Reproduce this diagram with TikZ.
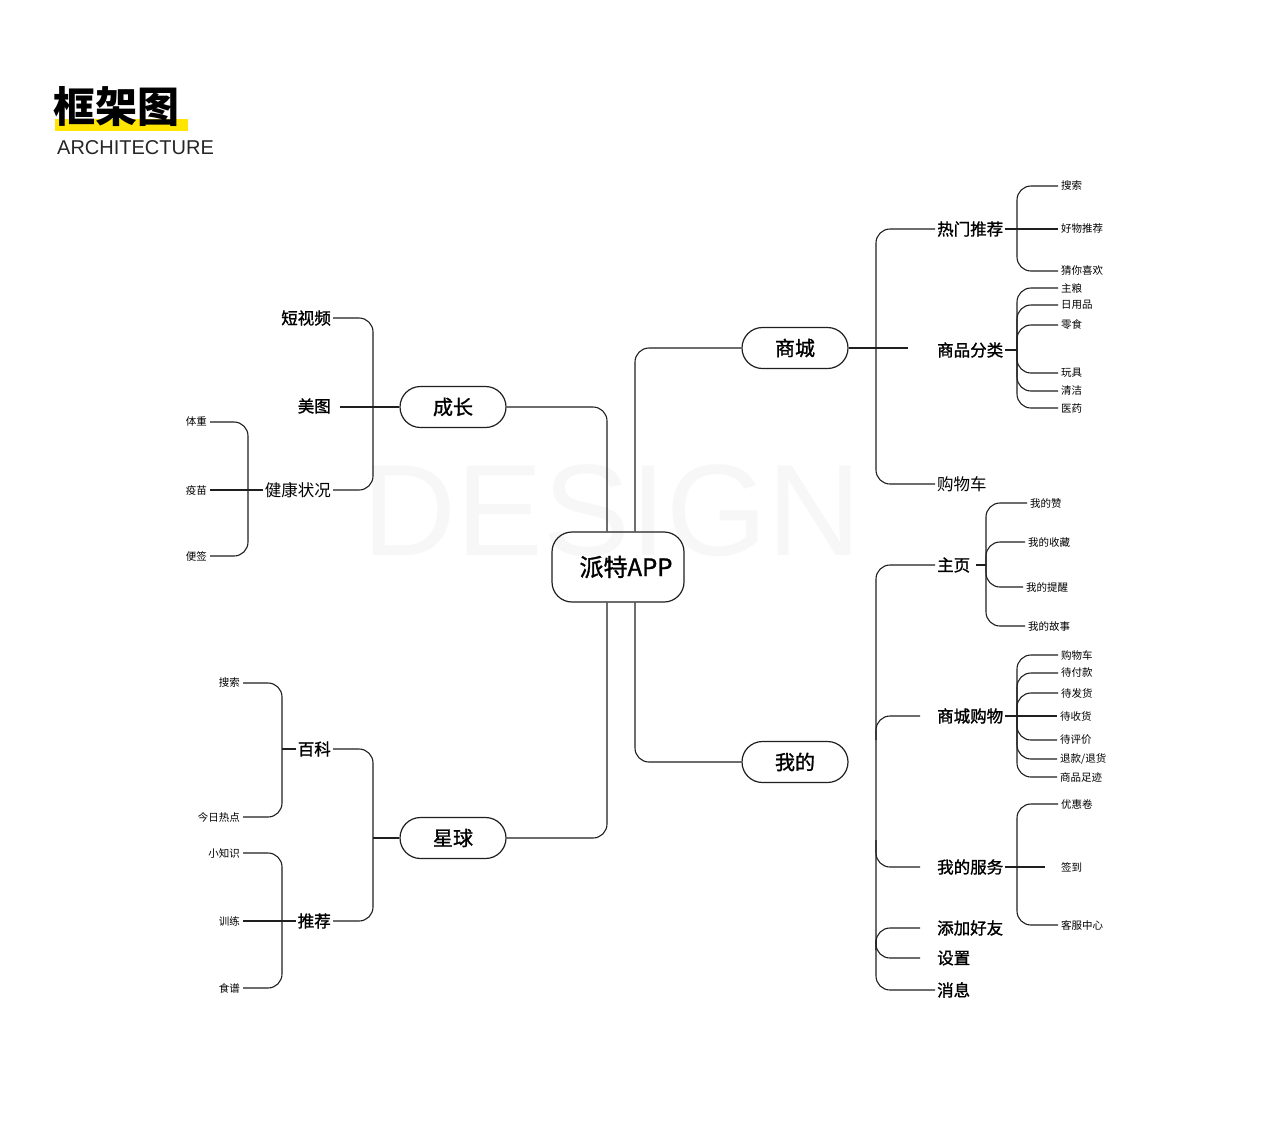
\documentclass[tikz,border=0pt]{standalone}
\usepackage{fontspec}
\newfontfamily\cjk{Noto Sans CJK SC}
\newfontfamily\cjkm[FakeBold=1.3]{Noto Sans CJK SC}
\newfontfamily\lat{Liberation Sans}
\definecolor{titleyellow}{HTML}{FFE500}
\begin{document}
\begin{tikzpicture}[x=1pt,y=-1pt,
  ln/.style={draw=black!88, line width=1.1pt, rounded corners=14pt},
  hub/.style={draw=black!88, line width=1.2pt, rounded corners=20.5pt, minimum width=106pt, minimum height=41pt, inner sep=0pt, font=\cjkm\fontsize{20}{24}\selectfont},
  lvl/.style={font=\cjkm\fontsize{16.5}{19}\selectfont, inner sep=2pt},
  leaf/.style={font=\cjk\fontsize{10.5}{12}\selectfont, inner sep=3pt}]
\useasboundingbox (0,0) rectangle (1280,1133);
\fill[white] (0,0) rectangle (1280,1133);
% watermark
\node[font=\lat\fontsize{130}{130}\selectfont, text=black!3, inner sep=0pt] (wm) at (612,511) {DESIGN};
% title
\fill[titleyellow] (55,119) rectangle (188,131);
\node[anchor=west, font=\cjk\bfseries\fontsize{42}{46}\selectfont, inner sep=0pt] (title) at (53,107) {框架图};
\node[anchor=west, font=\lat\fontsize{20}{22}\selectfont, text=black!85, inner sep=0pt] (sub) at (57,148) {ARCHITECTURE};

% bar x positions
\coordinate (xL1) at (607,0);
\coordinate (xR1) at (635,0);
\coordinate (bA) at (373,0);
\coordinate (bB) at (248,0);
\coordinate (bC) at (282,0);
\coordinate (bD) at (876,0);
\coordinate (bE) at (1017,0);
\coordinate (bF) at (986,0);

% center and hubs
\node[draw=black!88, line width=1.2pt, rounded corners=20pt, minimum width=132pt, minimum height=70pt, inner sep=0pt, font=\cjkm\fontsize{24}{28}\selectfont] (app) at (618,567) {\hspace*{16pt}派特APP};
\node[hub] (sc) at (795,348) {商城};
\node[hub] (wd) at (795,762) {我的};
\node[hub] (cz) at (453,407) {成长};
\node[hub] (xq) at (453,838) {星球};

\draw[ln] (cz.east) -| (xL1 |- app.north);
\draw[ln] (xq.east) -| (xL1 |- app.south);
\draw[ln] (sc.west) -| (xR1 |- app.north);
\draw[ln] (wd.west) -| (xR1 |- app.south);

% ---- 成长
\node[lvl, anchor=east] (dsp) at (333,318) {短视频};
\node[lvl, anchor=east] (mt) at (333,406) {美图};
\node[lvl, anchor=east, font=\cjk\fontsize{16.5}{19}\selectfont] (jk) at (333,490) {健康状况};
\draw[ln] (dsp.east) -| (bA |- cz.west);
\draw[ln] (jk.east) -| (bA |- cz.west);
\draw[ln] (cz.west) -- ([xshift=7pt]mt.east |- cz.west);

\node[leaf, anchor=east] (tz) at (210,422) {体重};
\node[leaf, anchor=east] (ym) at (210,490) {疫苗};
\node[leaf, anchor=east] (bq) at (210,556) {便签};
\draw[ln] (tz.east) -| (bB |- jk.west);
\draw[ln] (bq.east) -| (bB |- jk.west);
\draw[ln] (ym.east) -- (jk.west);

% ---- 星球
\node[lvl, anchor=east] (bk) at (333,749) {百科};
\node[lvl, anchor=east] (tj) at (333,921) {推荐};
\draw[ln] (bk.east) -| (bA |- xq.west);
\draw[ln] (tj.east) -| (bA |- xq.west);
\draw[ln] (xq.west) -- (bA |- xq.west);

\node[leaf, anchor=east] (ss1) at (243,683) {搜索};
\node[leaf, anchor=east] (jrrd) at (243,817) {今日热点};
\draw[ln] (ss1.east) -| (bC |- bk.west);
\draw[ln] (jrrd.east) -| (bC |- bk.west);
\draw[ln] (bk.west) -- (bC |- bk.west);

\node[leaf, anchor=east] (xzs) at (243,853) {小知识};
\node[leaf, anchor=east] (xl) at (243,921) {训练};
\node[leaf, anchor=east] (sp) at (243,988) {食谱};
\draw[ln] (xzs.east) -| (bC |- tj.west);
\draw[ln] (sp.east) -| (bC |- tj.west);
\draw[ln] (xl.east) -- (tj.west);

% ---- 商城
\node[lvl, anchor=west] (rmtj) at (935,229) {热门推荐};
\node[lvl, anchor=west] (spfl) at (935,350) {商品分类};
\node[lvl, anchor=west, font=\cjk\fontsize{16.5}{19}\selectfont] (gwc) at (935,484) {购物车};
\coordinate (scend) at (908,348);
\draw[ln] (sc.east) -- (scend);
\draw[ln] (rmtj.west) -| (bD |- sc.east);
\draw[ln] (gwc.west) -| (bD |- sc.east);

\node[leaf, anchor=west] (ss2) at (1058,186) {搜索};
\node[leaf, anchor=west] (hwtj) at (1058,229) {好物推荐};
\node[leaf, anchor=west] (cnxh) at (1058,271) {猜你喜欢};
\draw[ln] (ss2.west) -| (bE |- rmtj.east);
\draw[ln] (cnxh.west) -| (bE |- rmtj.east);
\draw[ln] (rmtj.east) -- (hwtj.west);

\node[leaf, anchor=west] (zl) at (1058,288) {主粮};
\node[leaf, anchor=west] (ryp) at (1058,305) {日用品};
\node[leaf, anchor=west] (lsh) at (1058,325) {零食};
\node[leaf, anchor=west] (wj) at (1058,373) {玩具};
\node[leaf, anchor=west] (qj) at (1058,391) {清洁};
\node[leaf, anchor=west] (yy) at (1058,408) {医药};
\draw[ln] (spfl.east) -- (bE |- spfl.east);
\foreach \n in {zl,ryp,lsh,wj,qj,yy}{
  \draw[ln] (\n.west) -| (bE |- spfl.east);
}

% ---- 我的
\node[lvl, anchor=west] (zy) at (935,565) {主页};
\node[lvl, anchor=west] (scgw) at (935,716) {商城购物};
\node[lvl, anchor=west] (wdfw) at (935,867) {我的服务};
\node[lvl, anchor=west] (tjhy) at (935,928) {添加好友};
\node[lvl, anchor=west] (sz) at (935,958) {设置};
\node[lvl, anchor=west] (xx) at (935,990) {消息};
\coordinate (j1) at (876,740);
\coordinate (j2) at (876,840);
\coordinate (j3) at (876,950);
\coordinate (j4) at (876,940);
\draw[ln] (zy.west) -| (bD |- xx.west) -- (xx.west);
\draw[ln] ([xshift=-15pt]scgw.west) -| (j1);
\draw[ln] ([xshift=-15pt]wdfw.west) -| (j2);
\draw[ln] ([xshift=-15pt]tjhy.west) -| (j3);
\draw[ln] ([xshift=-15pt]sz.west) -| (j4);

% 主页 children
\node[leaf, anchor=west] (wdz) at (1027,503) {我的赞};
\node[leaf, anchor=west] (wdsc) at (1025,542) {我的收藏};
\node[leaf, anchor=west] (wdtx) at (1023,587) {我的提醒};
\node[leaf, anchor=west] (wdgs) at (1025,626) {我的故事};
\draw[ln] ([xshift=4pt]zy.east) -- (bF |- zy.east);
\foreach \n in {wdz,wdsc,wdtx,wdgs}{
  \draw[ln] (\n.west) -| (bF |- zy.east);
}

% 商城购物 children
\node[leaf, anchor=west] (g1) at (1058,655) {购物车};
\node[leaf, anchor=west] (g2) at (1058,673) {待付款};
\node[leaf, anchor=west] (g3) at (1058,693) {待发货};
\node[leaf, anchor=west] (g4) at (1057,716) {待收货};
\node[leaf, anchor=west] (g5) at (1057,740) {待评价};
\node[leaf, anchor=west] (g6) at (1057,759) {退款/退货};
\node[leaf, anchor=west] (g7) at (1057,777) {商品足迹};
\draw[ln] (scgw.east) -- (g4.west |- scgw.east);
\foreach \n in {g1,g2,g3,g5,g6,g7}{
  \draw[ln] (\n.west) -| (bE |- scgw.east);
}

% 我的服务 children
\node[leaf, anchor=west] (yhj) at (1058,804) {优惠卷};
\node[leaf, anchor=west] (qd) at (1058,867) {签到};
\node[leaf, anchor=west] (kfzx) at (1058,925) {客服中心};
\draw[ln] (wdfw.east) -- ([xshift=-13pt]qd.west |- wdfw.east);
\draw[ln] (yhj.west) -| (bE |- wdfw.east);
\draw[ln] (kfzx.west) -| (bE |- wdfw.east);
\end{tikzpicture}
\end{document}
